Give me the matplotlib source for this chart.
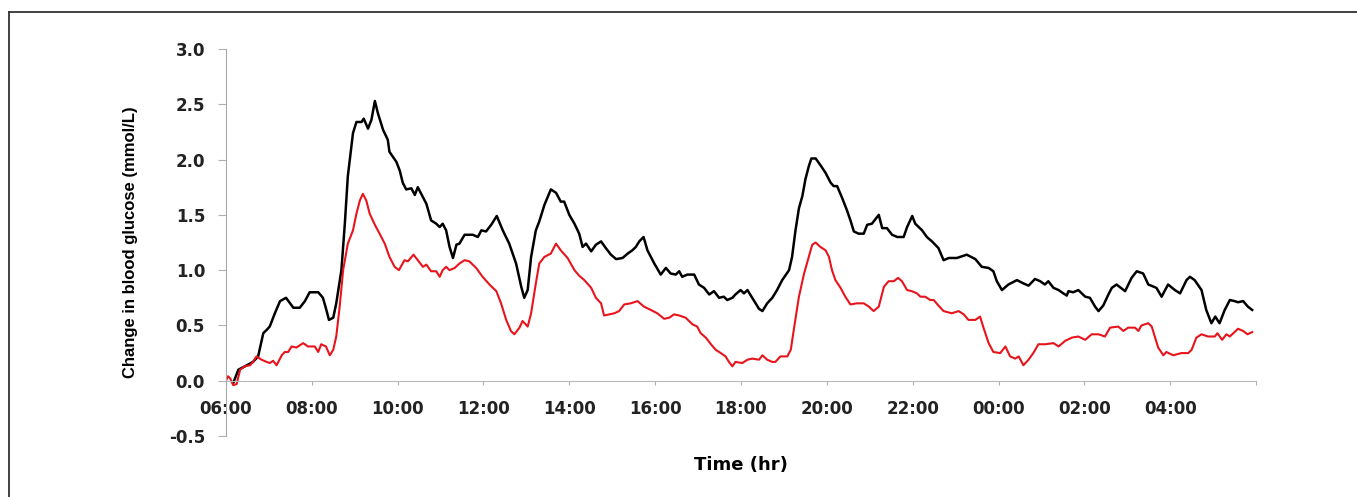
import matplotlib
matplotlib.use("Agg")
import matplotlib.pyplot as plt
from matplotlib.lines import Line2D

# hours after 06:00 and change in blood glucose (mmol/L)
black_hours = [0.17, 0.29, 0.44, 0.63, 0.75, 0.87, 0.95, 1.02, 1.14, 1.26, 1.40, 1.57, 1.72, 1.84, 1.95,
               2.15, 2.26, 2.34, 2.40, 2.50, 2.57, 2.69, 2.77, 2.84, 2.96, 3.04, 3.16, 3.21, 3.31, 3.39,
               3.47, 3.54, 3.66, 3.77, 3.81, 3.97, 4.05, 4.12, 4.20, 4.32, 4.40, 4.47, 4.59, 4.67, 4.78,
               4.90, 4.98, 5.05, 5.13, 5.21, 5.29, 5.37, 5.44, 5.56, 5.75, 5.87, 5.95, 6.06, 6.18, 6.31,
               6.45, 6.60, 6.76, 6.88, 6.95, 7.03, 7.11, 7.22, 7.30, 7.42, 7.57, 7.69, 7.80, 7.88, 8.00,
               8.12, 8.23, 8.31, 8.39, 8.51, 8.62, 8.74, 8.85, 8.97, 9.09, 9.24, 9.36, 9.47, 9.55, 9.63,
               9.73, 9.82, 9.98, 10.13, 10.25, 10.36, 10.48, 10.56, 10.63, 10.75, 10.91, 11.02, 11.14,
               11.26, 11.37, 11.49, 11.60, 11.68, 11.80, 11.87, 11.99, 12.07, 12.15, 12.26, 12.42, 12.50,
               12.61, 12.73, 12.84, 12.96, 13.12, 13.19, 13.27, 13.35, 13.43, 13.50, 13.58, 13.64, 13.74,
               13.85, 13.97, 14.09, 14.16, 14.24, 14.36, 14.47, 14.55, 14.63, 14.74, 14.86, 14.94, 15.05,
               15.21, 15.29, 15.40, 15.52, 15.64, 15.79, 15.87, 15.99, 16.06, 16.22, 16.33, 16.45, 16.60,
               16.72, 16.84, 17.03, 17.26, 17.46, 17.61, 17.77, 17.88, 17.96, 18.08, 18.23, 18.43, 18.58,
               18.70, 18.85, 18.97, 19.08, 19.16, 19.28, 19.40, 19.51, 19.59, 19.63, 19.74, 19.86, 20.02,
               20.13, 20.25, 20.33, 20.44, 20.56, 20.64, 20.75, 20.95, 21.10, 21.22, 21.37, 21.49, 21.68,
               21.80, 21.95, 22.11, 22.23, 22.38, 22.46, 22.57, 22.73, 22.84, 22.96, 23.05, 23.15, 23.27,
               23.39, 23.50, 23.58, 23.70, 23.81, 23.91]
black_values = [-0.02, 0.10, 0.13, 0.17, 0.22, 0.43, 0.46, 0.49, 0.61, 0.72, 0.75, 0.66, 0.66, 0.72, 0.80,
                0.80, 0.75, 0.64, 0.55, 0.57, 0.70, 1.00, 1.42, 1.85, 2.24, 2.34, 2.34, 2.37, 2.28, 2.36,
                2.53, 2.42, 2.27, 2.18, 2.07, 1.98, 1.90, 1.79, 1.73, 1.74, 1.68, 1.75, 1.66, 1.60, 1.45,
                1.42, 1.39, 1.42, 1.36, 1.21, 1.11, 1.23, 1.24, 1.32, 1.32, 1.30, 1.36, 1.35, 1.41, 1.49,
                1.36, 1.24, 1.06, 0.85, 0.75, 0.82, 1.12, 1.36, 1.44, 1.59, 1.73, 1.70, 1.62, 1.62, 1.50,
                1.42, 1.33, 1.21, 1.24, 1.17, 1.23, 1.26, 1.20, 1.14, 1.10, 1.11, 1.15, 1.18, 1.21, 1.26,
                1.30, 1.18, 1.06, 0.96, 1.02, 0.97, 0.96, 0.99, 0.94, 0.96, 0.96, 0.87, 0.84,
                0.78, 0.81, 0.75, 0.76, 0.73, 0.75, 0.78, 0.82, 0.79, 0.82, 0.75, 0.65, 0.63,
                0.70, 0.75, 0.82, 0.91, 1.00, 1.12, 1.36, 1.56, 1.67, 1.82, 1.94, 2.01, 2.01,
                1.95, 1.88, 1.79, 1.76, 1.76, 1.65, 1.54, 1.45, 1.35, 1.33, 1.33, 1.41, 1.42,
                1.50, 1.38, 1.38, 1.32, 1.30, 1.30, 1.39, 1.49, 1.42, 1.36, 1.30, 1.26, 1.20,
                1.09, 1.11, 1.11, 1.14, 1.10, 1.03, 1.02, 0.99, 0.90, 0.82, 0.87, 0.91, 0.88,
                0.86, 0.92, 0.90, 0.87, 0.90, 0.84, 0.82, 0.79, 0.77, 0.81, 0.80, 0.82, 0.76,
                0.75, 0.67, 0.63, 0.68, 0.78, 0.84, 0.87, 0.81, 0.93, 0.99, 0.97, 0.87, 0.84,
                0.76, 0.87, 0.82, 0.79, 0.91, 0.94, 0.91, 0.82, 0.64, 0.52, 0.58, 0.52, 0.64,
                0.73, 0.72, 0.71, 0.72, 0.67, 0.64]

red_hours = [0.00, 0.05, 0.10, 0.17, 0.25, 0.33, 0.44, 0.56, 0.63, 0.71, 0.83, 0.95, 1.02, 1.10, 1.18,
             1.30, 1.37, 1.45, 1.53, 1.64, 1.80, 1.91, 2.07, 2.15, 2.22, 2.33, 2.42, 2.50, 2.57, 2.65,
             2.73, 2.84, 2.96, 3.04, 3.12, 3.19, 3.27, 3.35, 3.47, 3.58, 3.70, 3.81, 3.93, 4.03, 4.16,
             4.24, 4.37, 4.47, 4.59, 4.67, 4.78, 4.90, 4.98, 5.05, 5.13, 5.21, 5.33, 5.44, 5.56, 5.67,
             5.83, 5.98, 6.14, 6.30, 6.41, 6.53, 6.64, 6.72, 6.84, 6.91, 7.03, 7.11, 7.22, 7.30, 7.42,
             7.57, 7.69, 7.80, 7.96, 8.12, 8.23, 8.35, 8.51, 8.62, 8.74, 8.81, 8.93, 9.05, 9.16, 9.28,
             9.43, 9.59, 9.74, 9.90, 10.05, 10.21, 10.33, 10.44, 10.56, 10.71, 10.87, 10.98, 11.06,
             11.18, 11.30, 11.41, 11.53, 11.64, 11.72, 11.80, 11.87, 12.03, 12.15, 12.26, 12.42, 12.50,
             12.61, 12.73, 12.80, 12.92, 13.08, 13.16, 13.23, 13.35, 13.47, 13.58, 13.66, 13.74, 13.85,
             13.97, 14.05, 14.12, 14.20, 14.32, 14.43, 14.55, 14.70, 14.86, 14.98, 15.09, 15.21, 15.33,
             15.44, 15.56, 15.66, 15.75, 15.87, 15.98, 16.10, 16.18, 16.29, 16.41, 16.49, 16.60, 16.72,
             16.91, 17.07, 17.19, 17.30, 17.46, 17.57, 17.65, 17.77, 17.88, 18.04, 18.16, 18.27, 18.39,
             18.47, 18.58, 18.70, 18.81, 18.93, 19.09, 19.28, 19.40, 19.55, 19.71, 19.86, 20.02, 20.17,
             20.33, 20.48, 20.60, 20.79, 20.91, 21.02, 21.18, 21.26, 21.33, 21.49, 21.57, 21.64, 21.72,
             21.84, 21.91, 22.07, 22.26, 22.42, 22.50, 22.61, 22.73, 22.88, 23.04, 23.10, 23.21, 23.31,
             23.39, 23.50, 23.58, 23.70, 23.80, 23.91]
red_values = [0.00, 0.04, 0.02, -0.04, -0.03, 0.10, 0.13, 0.14, 0.17, 0.22, 0.19, 0.17, 0.16, 0.18, 0.14,
              0.23, 0.26, 0.26, 0.31, 0.30, 0.34, 0.31, 0.31, 0.26, 0.33, 0.31, 0.23, 0.28, 0.40, 0.67,
              1.00, 1.24, 1.36, 1.51, 1.63, 1.69, 1.63, 1.51, 1.41, 1.33, 1.24, 1.12, 1.03, 1.00, 1.09,
              1.08, 1.14, 1.09, 1.03, 1.05, 0.99, 0.99, 0.94, 1.00, 1.03, 1.00, 1.02, 1.06, 1.09, 1.08,
              1.02, 0.94, 0.87, 0.81, 0.70, 0.55, 0.45, 0.42, 0.48, 0.54, 0.49, 0.61, 0.88, 1.06, 1.12,
              1.15, 1.24, 1.18, 1.11, 1.00, 0.95, 0.91, 0.84, 0.75, 0.70, 0.59, 0.60, 0.61, 0.63, 0.69,
              0.70, 0.72, 0.67, 0.64, 0.61, 0.56, 0.57, 0.60, 0.59, 0.57, 0.51, 0.49, 0.43,
              0.39, 0.33, 0.28, 0.25, 0.22, 0.17, 0.13, 0.17, 0.16, 0.19, 0.20, 0.19, 0.23,
              0.19, 0.17, 0.17, 0.22, 0.22, 0.28, 0.46, 0.76, 0.97, 1.12, 1.23, 1.25, 1.21,
              1.18, 1.12, 1.00, 0.91, 0.84, 0.76, 0.69, 0.70, 0.70, 0.67, 0.63, 0.67, 0.85,
              0.90, 0.90, 0.93, 0.90, 0.82, 0.81, 0.79, 0.76, 0.76, 0.73, 0.73, 0.68, 0.63,
              0.61, 0.63, 0.60, 0.55, 0.55, 0.58, 0.48, 0.34, 0.26, 0.25, 0.31, 0.22, 0.20,
              0.22, 0.14, 0.19, 0.25, 0.33, 0.33, 0.34, 0.31, 0.36, 0.39, 0.40, 0.37, 0.42,
              0.42, 0.40, 0.48, 0.49, 0.45, 0.48, 0.48, 0.45, 0.50, 0.52, 0.49, 0.40, 0.30,
              0.23, 0.26, 0.23, 0.25, 0.25, 0.28, 0.39, 0.42, 0.40, 0.40, 0.43, 0.37, 0.42,
              0.40, 0.44, 0.47, 0.45, 0.42, 0.44]

x_ticks = [0, 2, 4, 6, 8, 10, 12, 14, 16, 18, 20, 22, 24]
x_labels = ["06:00", "08:00", "10:00", "12:00", "14:00", "16:00", "18:00",
            "20:00", "22:00", "00:00", "02:00", "04:00", ""]
y_ticks = [-0.5, 0.0, 0.5, 1.0, 1.5, 2.0, 2.5, 3.0]
y_labels = ["-0.5", "0.0", "0.5", "1.0", "1.5", "2.0", "2.5", "3.0"]

fig = plt.figure(figsize=(13.57, 4.97), dpi=100)
ax = fig.add_axes([0.1665, 0.1227, 0.7591, 0.7787])

ax.plot(black_hours, black_values, color="black", lw=1.8)
ax.plot(red_hours, red_values, color="#e8141c", lw=1.5)

ax.set_xlim(0, 24)
ax.set_ylim(-0.5, 3.0)
ax.spines["top"].set_visible(False)
ax.spines["right"].set_visible(False)
ax.spines["bottom"].set_position(("data", 0))
ax.spines["bottom"].set_color("#b8b8b8")
ax.spines["left"].set_color("#a8a8a8")

ax.set_xticks(x_ticks)
ax.set_xticklabels(x_labels, fontsize=12, fontweight="bold", color="#222222")
ax.set_yticks(y_ticks)
ax.set_yticklabels(y_labels, fontsize=12, fontweight="bold", color="#222222")
ax.tick_params(axis="x", direction="out", length=3, color="#b0b0b0", pad=11)
ax.tick_params(axis="y", direction="out", length=6, color="#b0b0b0", pad=9)

fig.text(0.0958, 0.513, "Change in blood glucose (mmol/L)", rotation=90,
         ha="center", va="center", fontsize=12, fontweight="bold",
         family=["Liberation Sans Narrow", "Liberation Sans", "DejaVu Sans"])
fig.text(0.546, 0.064, "Time (hr)", ha="center", va="center",
         fontsize=13, fontweight="bold")

# frame around the figure (only top and left edges show)
fig.add_artist(Line2D([0.0066, 1.0], [0.976, 0.976], transform=fig.transFigure,
                      color="#333333", lw=1.3))
fig.add_artist(Line2D([0.0066, 0.0066], [0.0, 0.976], transform=fig.transFigure,
                      color="#333333", lw=1.3))

fig.savefig("out.png", dpi=100)
